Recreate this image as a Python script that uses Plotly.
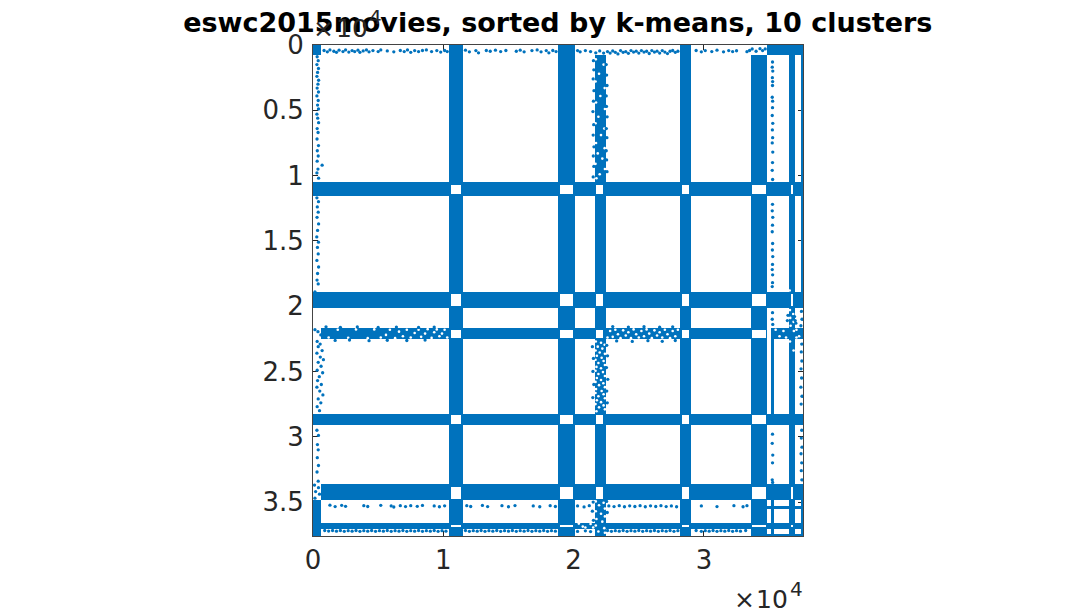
import plotly.graph_objects as go

TITLE = "eswc2015movies, sorted by k-means, 10 clusters"
x_tick_vals = [0, 10000, 20000, 30000]
x_tick_text = ["0", "1", "2", "3"]
y_tick_vals = [0, 5000, 10000, 15000, 20000, 25000, 30000, 35000]
y_tick_text = ["0", "0.5", "1", "1.5", "2", "2.5", "3", "3.5"]

col_edges = [0, 650, 10460, 11530, 18810, 20115, 21620, 22450, 28160, 29000, 33600, 34830, 35150, 35380, 36510, 36950, 37450, 37700]
row_edges = [0, 770, 10500, 11570, 18900, 20130, 21660, 22550, 28220, 29120, 33640, 34870, 35270, 35500, 36580, 37040, 37450, 37700]
dense_rows = [
    "#.#.#...#..######",
    "..#.#.#.#.#...#.#",
    "#################",
    "..#.#.#.#.#...#.#",
    "#################",
    "..#.#.#.#.#...#..",
    ".##########.#####",
    "..#.#.#.#.#.#.#..",
    "#################",
    "..#.#.#.#.#...#..",
    ".################",
    "#.#.#.#.#.#.#.#.#",
    "#.#.#.#.#.#######",
    "#.#.#.#.#.#.#.#.#",
    "#################",
    "#.#.#.#.#.#.#.#.#",
    "#.#.#.#.#.#######",
]

hole_col_edges = [0, 10610, 11380, 18970, 19940, 21720, 22285, 28290, 28870, 33700, 34730, 36670, 36800, 37700]
hole_row_edges = [0, 10730, 11420, 19030, 20000, 21840, 22400, 28310, 29000, 33840, 34740, 36730, 36880, 37700]
hole_rows = [
    ".............",
    ".#.#.#.#.#.#.",
    ".............",
    ".#.#.#.#.#.#.",
    ".............",
    ".#.#.#.#.#...",
    ".............",
    ".#.#.#.#.#...",
    ".............",
    ".#.#.#.#.#.#.",
    ".............",
    ".#.#...#.#.#.",
    ".............",
]

top_row = [(850,420),(1100,520),(1300,380),(1600,480),(1800,560),(2000,400),(2300,500),(2500,380),(2750,540),(3000,430),(3200,500),(3450,400),(3600,560),(3850,450),(4100,380),(4300,520),(4600,430),(5000,500),(5200,380),(5700,450),(6200,520),(6700,420),(7000,500),(7250,380),(7500,560),(7800,430),(8100,500),(8400,420),(8700,380),(9100,500),(9500,430),(9800,540),(10100,420),(10300,500),
 (11700,400),(12000,520),(12500,430),(12700,600),(13300,420),(13600,480),(14000,400),(14400,500),(14800,420),(15600,480),(15900,400),(16200,520),(16800,430),(17200,380),(17500,520),(17900,430),(18100,600),(18400,420),(18650,500),
 (20300,430),(20500,520),(20900,430),(21300,500),(21700,600),(22000,450),(22300,620),
 (22600,500),(22800,620),(23000,450),(23200,560),(23400,680),(23600,430),(23800,560),(24000,500),(24200,640),(24400,430),(24600,540),(24800,470),(25000,620),(25200,430),(25400,540),(25600,480),(25800,650),(26000,430),(26200,540),(26400,470),(26600,620),(26800,430),(27000,540),(27200,660),(27400,480),(27600,420),(27800,560),(28000,480),
 (29400,420),(29800,520),(30100,430),(30600,500),(31000,400),(31500,520),(31900,430),(32200,500),(32500,440),(33300,510),(33500,420),
 (33700,300),(34000,480),(34300,280),(34500,430),(34700,300)]

left_col = [(320,900),(400,1200),(300,1500),(420,1800),(350,2100),(300,2400),(430,2700),(380,3000),(320,3300),(420,3600),(300,3900),(400,4250),(350,4600),(420,4900),(300,5300),(360,5600),(430,5950),(320,6400),(390,6700),(310,7200),(420,7700),(330,8100),(400,8500),(320,8900),(700,9200),(380,9500),(300,9800),(430,10200),
 (300,11700),(420,12000),(330,12400),(400,12800),(310,13200),(430,13700),(350,14200),(290,14700),(420,15100),(340,15500),(400,16000),(300,16500),(430,17000),(350,17500),(310,18000),(400,18300),(150,18900),(450,19200),(250,19500),(500,19800),(100,20000),
 (150,21800),(380,21950),(600,22200),(320,22700),(550,22900),(400,23100),(700,23400),(300,23600),(560,23900),(800,24100),(400,24300),(620,24600),(320,24900),(740,25100),(480,25400),(350,25700),(640,26000),(300,26200),(520,26500),(760,26800),(400,27100),(600,27400),(320,27700),(500,28000),
 (300,29500),(420,29900),(340,30600),(400,31000),(330,31600),(420,32200),(310,32700),(400,33400),(120,33700),(420,33900),(200,34200),(500,34400),(150,34700)]

c6_row = [(1300,35240),(1700,35350),(2200,35250),(2500,35330),(3900,35280),(4200,35340),(5200,35250),(6000,35300),(6200,35380),(6700,35280),(7100,35350),(7500,35280),(8000,35330),(8400,35260),(9300,35300),(9700,35360),(10100,35290),
 (11800,35280),(12100,35340),(13000,35260),(13400,35350),(14500,35280),(15000,35360),(15500,35270),(16900,35300),(17400,35360),(18200,35280),(18600,35340),
 (20300,35300),(20800,35370),(21200,35280),(22700,35300),(23100,35350),(23500,35280),(23900,35360),(24300,35290),(24700,35340),(25100,35280),(25500,35360),(25900,35290),(26300,35340),(26700,35280),(27100,35350),(27500,35300),(27900,35360),
 (29800,35300),(31000,35350),(32300,35280),(33000,35360),(33300,35280)]

bottom_row = [(900,37180),(1200,37220),(1500,37180),(1800,37230),(2100,37180),(2400,37240),(2700,37190),(3000,37230),(3300,37180),(3600,37240),(3900,37190),(4200,37230),(4500,37180),(4800,37240),(5100,37190),(5400,37230),(5700,37180),(6000,37240),(6300,37190),(6600,37230),(6900,37180),(7200,37240),(7500,37190),(7800,37230),(8100,37180),(8400,37240),(8700,37190),(9000,37230),(9300,37180),(9600,37240),(9900,37190),(10200,37230),
 (11700,37180),(12000,37240),(12300,37190),(12600,37230),(12900,37180),(13200,37240),(13500,37190),(13800,37230),(14100,37180),(14400,37240),(14700,37190),(15000,37230),(15300,37180),(15600,37240),(15900,37190),(16200,37230),(16500,37180),(16800,37240),(17100,37190),(17400,37230),(17700,37180),(18000,37240),(18300,37190),(18600,37230),
 (20300,37250),(20900,37200),(21300,37260),
 (22600,37180),(22900,37240),(23200,37190),(23500,37230),(23800,37180),(24100,37240),(24400,37190),(24700,37230),(25000,37180),(25300,37240),(25600,37190),(25900,37230),(26200,37180),(26500,37240),(26800,37190),(27100,37230),(27400,37180),(27700,37240),(28000,37190),
 (29400,37180),(29800,37240),(30100,37190),(30400,37230),(30700,37180),(31000,37240),(31300,37190),(31600,37230),(31900,37180),(32200,37240),(32500,37190),(32800,37230),(33200,37180)]

thin_col = [(35260,1300),(35240,1700),(35280,2000),(35250,2500),(35270,2800),(35260,3100),(35240,4000),(35270,4300),(35260,4800),(35240,5400),(35280,6000),(35250,6500),(35270,7100),(35240,7500),(35280,8200),(35260,9000),(35240,9600),(35270,10300),
 (35260,12200),(35240,12700),(35280,13200),(35260,13800),(35240,14300),(35270,15200),(35250,15700),(35280,16200),(35260,16800),(35240,17200),(35270,17600),(35260,18200),(35240,18500),
 (35260,20500),(35240,21000),(35280,21400),
 (35260,29800),(35240,30500),(35280,31400),(35260,32000),(35240,33300),(35270,33500),
 (37480,20400),(37520,21000),(37440,21500),(37500,22900),(37470,23500),(37510,24200),(37450,24800),(37490,25500),(37440,26200),(37520,26900),(37460,27500),(37500,29500),(37470,30100),(37520,30800),(37450,31300),(37500,32000),(37470,32600),(37510,33300),
 (36950,20800),(37050,21300),(37000,21100),(36450,20700),(36400,21100)]

b3_side_dots = [(21520,1200),(21550,1900),(21500,2600),(21560,3500),(21520,4300),(21480,5100),(21540,6100),(21500,6900),(21560,7800),(21510,8500),(21550,9300),(21500,10100),
 (22500,1500),(22530,2300),(22560,3100),(22500,3900),(22520,4700),(22570,5500),(22510,6400),(22550,7100),(22500,8100),(22530,8800),(22560,9700),
 (21440,23100),(21520,24000),(21480,25000),(21550,26000),(21470,27000),(22540,23000),(22600,23800),(22520,24700),(22620,25600),(22540,26500),(22580,27400),
 (21500,35000),(21440,35700),(21520,36400),(22530,34950),(22580,35800),(22520,36800),
 (1000,21580),(2100,21620),(3400,21590),(5000,21630),(6400,21600),(8100,21630),(9300,21600),(1700,22620),(2800,22590),(4300,22640),(5700,22610),(7200,22630),(8600,22600),
 (23000,21560),(24200,21600),(25400,21570),(26600,21610),(27600,21580),(23300,22660),(24500,22700),(25700,22640),(26800,22690),(27800,22630)]

flecks_col_top = [(21700,1100),(22300,1500),(21950,2200),(21680,2800),(22380,3300),(22050,3900),(21720,4400),(22400,4900),(21900,5500),(21680,6000),(22350,6400),(22100,6900),(21720,7500),(22380,7900),(21850,8300),(22200,8700),(21680,9100),(22400,9500),(22000,9900),(21750,10200)]
flecks_col_mid = [(21700,22700),(22100,22800),(22380,22950),(21850,23100),(22200,23250),(21680,23400),(22000,23550),(22400,23650),(21780,23800),(22150,23950),(21680,24100),(22300,24200),(21900,24350),(22400,24500),(21750,24650),(22100,24750),(21680,24950),(22250,25050),(21900,25200),(22400,25350),(21780,25500),(22100,25650),(21680,25800),(22280,25900),(21950,26050),(22400,26200),(21720,26350),(22150,26500),(21680,26650),(22300,26750),(21900,26900),(22400,27050),(21780,27200),(22100,27350),(21680,27500),(22300,27600),(21950,27750),(22400,27900),(21750,28050),
 (21700,34950),(22300,35050),(21950,35250),(22400,35500),(21700,35700),(22100,35900),(22400,36100),(21750,36300),(22200,36500),(21700,36800),(22350,37000),(21900,37250),(22400,37350)]
flecks_row_left = [(1200,22400),(1900,21800),(2700,22420),(3300,21780),(4200,22450),(4700,21780),(5200,22400),(5600,22200),(5900,21800),(6300,22450),(6600,21950),(6900,22300),(7200,21800),(7500,22400),(7800,22050),(8100,21800),(8300,22350),(8600,22100),(8800,21760),(9100,22430),(9300,22000),(9500,21780),(9700,22300),(9900,22100),(10100,21800),(10300,22400)]
flecks_row_right = [(22600,22400),(22800,21900),(23000,22350),(23200,21800),(23400,22150),(23600,22450),(23800,21850),(24000,22250),(24200,22000),(24400,22450),(24600,21780),(24800,22150),(25000,22400),(25200,21900),(25400,22300),(25600,21780),(25800,22100),(26000,22450),(26200,21850),(26400,22250),(26600,22000),(26800,22400),(27000,21800),(27200,22150),(27400,22450),(27600,21900),(27800,22300),(28000,21800),
 (35500,21800),(35800,22300),(36100,21900),(36300,22400),(37100,21800),(37300,22300),(36900,21900),(37100,22400)]
flecks_b7 = [(36600,20300),(36850,20600),(36620,20900),(36880,21200),(36650,21500),(36580,18800),(36600,22700),(36880,23400),(20400,36650),(20900,36950),(21300,36680),(20700,36880),(21500,36950)]

BLUE = "#0072BD"
INK = "#262626"

def to_cells(rows):
    return [[1 if ch == "#" else None for ch in r] for r in rows]

def xs(*groups):
    return [p[0] for g in groups for p in g]

def ys(*groups):
    return [p[1] for g in groups for p in g]

dots = (top_row, left_col, c6_row, bottom_row, thin_col, b3_side_dots)
flecks = (flecks_col_top, flecks_col_mid, flecks_row_left, flecks_row_right, flecks_b7)

fig = go.Figure()
fig.add_trace(go.Heatmap(x=col_edges, y=row_edges, z=to_cells(dense_rows), zmin=0, zmax=1,
                         colorscale=[[0, BLUE], [1, BLUE]], showscale=False, hoverinfo="skip"))
fig.add_trace(go.Heatmap(x=hole_col_edges, y=hole_row_edges, z=to_cells(hole_rows), zmin=0, zmax=1,
                         colorscale=[[0, "#ffffff"], [1, "#ffffff"]], showscale=False, hoverinfo="skip"))
fig.add_trace(go.Scatter(x=xs(*flecks), y=ys(*flecks), mode="markers", hoverinfo="skip",
                         marker=dict(color="white", size=2.6, line=dict(width=0))))
fig.add_trace(go.Scatter(x=xs(*dots), y=ys(*dots), mode="markers", hoverinfo="skip",
                         marker=dict(color=BLUE, size=3.3, line=dict(width=0))))

L, R, T, B = 312.5, 803.0, 45.0, 536.0
W, H = 1078, 615

def mult(x_times, x_ten, x_four, y_ten, y_four):
    out = []
    for txt, px, py, size in (("×", x_times, y_ten, 25), ("10", x_ten, y_ten, 25), ("4", x_four, y_four, 20)):
        out.append(dict(text=txt, x=(px - L) / (R - L), y=(B - py) / (B - T), xref="paper", yref="paper",
                        xanchor="center", yanchor="middle", showarrow=False,
                        font=dict(family="DejaVu Sans", size=size, color=INK)))
    return out

axis = dict(range=[0, 37600], showgrid=False, zeroline=False, showline=True, linecolor="#444444", linewidth=1,
            mirror="ticks", ticks="inside", ticklen=5, tickwidth=1, tickcolor="#262626",
            tickfont=dict(family="DejaVu Sans", size=26, color=INK), layer="below traces")

fig.update_layout(
    width=W, height=H, autosize=False, showlegend=False,
    paper_bgcolor="white", plot_bgcolor="white",
    margin=dict(l=L, r=W - R, t=T, b=H - B, pad=0),
    title=dict(text=TITLE, x=(L + R) / 2 / W, xanchor="center", y=1 - 23 / H, yanchor="middle",
               font=dict(family="DejaVu Sans", size=27, color="black", weight="bold")),
    xaxis=dict(axis, tickmode="array", tickvals=x_tick_vals, ticktext=x_tick_text, ticklabelstandoff=1),
    yaxis=dict(axis, range=[37600, 0], tickmode="array", tickvals=y_tick_vals, ticktext=y_tick_text, ticklabelstandoff=3),
    annotations=mult(744, 772, 796, 599, 589) + mult(323, 352, 375, 29, 17),
)
fig.write_html("out.html", post_script="document.body.style.margin='0';", config={"displayModeBar": False})
